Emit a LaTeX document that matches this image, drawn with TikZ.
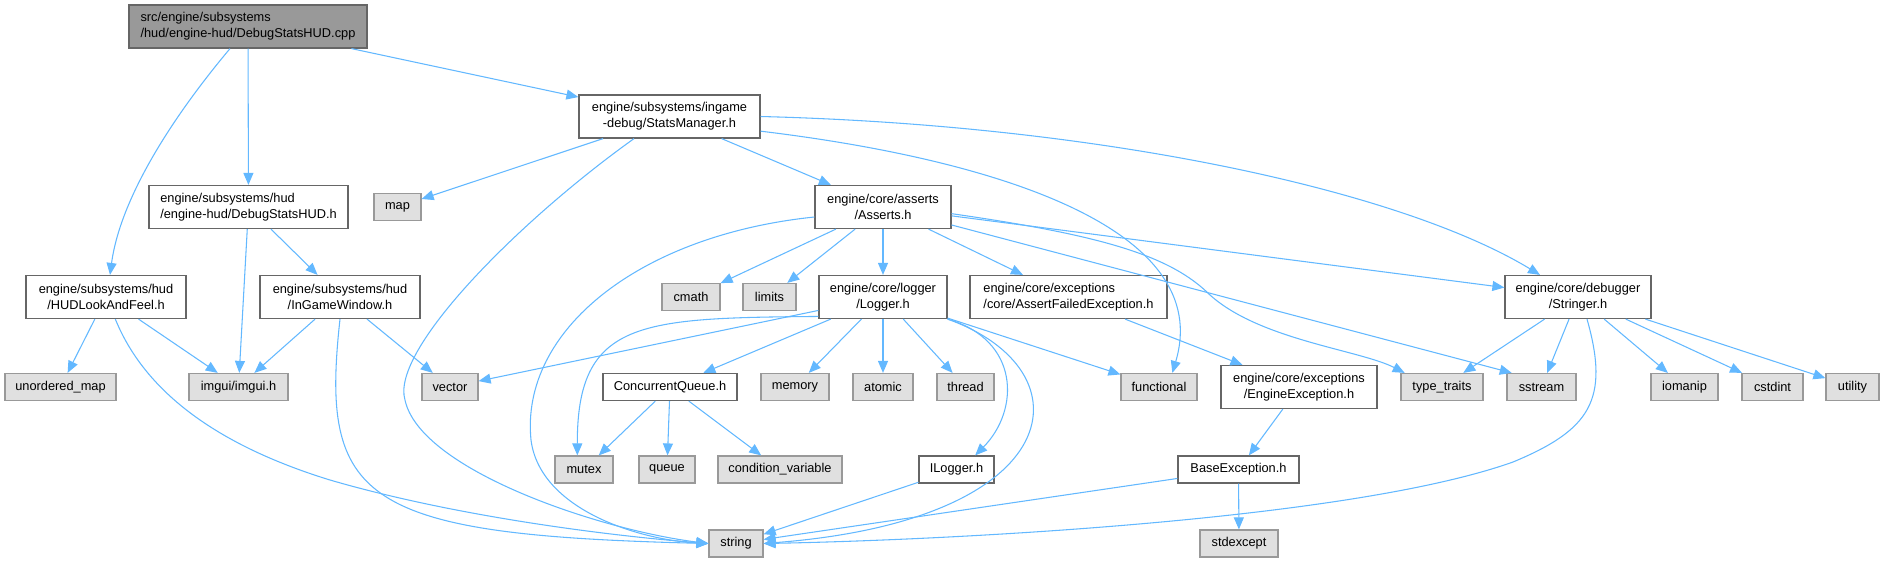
\documentclass[tikz,border=0pt]{standalone}
\usepackage{fontspec}
\setmainfont{Liberation Sans}
\usetikzlibrary{arrows.meta}
\definecolor{edgeblue}{HTML}{63B8FF}
\definecolor{boxline}{HTML}{666666}
\definecolor{sysline}{HTML}{999999}
\definecolor{sysfill}{HTML}{E0E0E0}
\definecolor{srcfill}{HTML}{999999}
\begin{document}
\begin{tikzpicture}[x=0.75pt,y=-0.75pt,
  font=\fontsize{9.6}{12}\selectfont,
  hdr/.style={draw=boxline,fill=white,line width=0.9pt,inner sep=0pt,
    minimum height=20.25pt,align=center},
  twoline/.style={minimum height=32.25pt},
  sys/.style={draw=sysline,fill=sysfill,line width=0.9pt,inner sep=0pt,
    minimum height=20.25pt},
  src/.style={hdr,twoline,fill=srcfill},
  bw/.style={minimum width=#1*0.75pt},
  dep/.style={draw=edgeblue,line width=0.8pt,-{Triangle[length=9pt,width=7.5pt]}}]
  \useasboundingbox (0,0) rectangle (1884,565);
  \node[src,bw=238,align=left] (cpp) at (248,26.5)
    {src/engine/subsystems\\/hud/engine-hud/DebugStatsHUD.cpp};
  \node[hdr,twoline,bw=181] (statsmgr) at (669.5,116.5)
    {engine/subsystems/ingame\\-debug/StatsManager.h};
  \node[hdr,twoline,bw=199,align=left] (hudh) at (248.5,207)
    {engine/subsystems/hud\\/engine-hud/DebugStatsHUD.h};
  \node[sys,bw=47] (map) at (397.5,207) {map};
  \node[hdr,twoline,bw=136] (asserts) at (883,207) {engine/core/asserts\\/Asserts.h};
  \node[hdr,twoline,bw=160] (lookfeel) at (106,297) {engine/subsystems/hud\\/HUDLookAndFeel.h};
  \node[hdr,twoline,bw=160] (ingamewin) at (340,297) {engine/subsystems/hud\\/InGameWindow.h};
  \node[sys,bw=58] (cmath) at (691,297) {cmath};
  \node[sys,bw=53] (limits) at (769.5,297) {limits};
  \node[hdr,twoline,bw=128] (logger) at (883,297) {engine/core/logger\\/Logger.h};
  \node[hdr,twoline,bw=197,align=left] (assertfail) at (1068.5,297)
    {engine/core/exceptions\\/core/AssertFailedException.h};
  \node[hdr,twoline,bw=146] (stringer) at (1578,297) {engine/core/debugger\\/Stringer.h};
  \node[sys,bw=111] (umap) at (60.5,387) {unordered\_map};
  \node[sys,bw=99] (imgui) at (238.5,387) {imgui/imgui.h};
  \node[sys,bw=56] (vector) at (450,387) {vector};
  \node[hdr,bw=134] (cqueue) at (670,387) {ConcurrentQueue.h};
  \node[sys,bw=68] (memory) at (795,387) {memory};
  \node[sys,bw=60] (atomic) at (883,387) {atomic};
  \node[sys,bw=57] (thread) at (965.5,387) {thread};
  \node[sys,bw=76] (functional) at (1159,387) {functional};
  \node[hdr,twoline,bw=156] (engexc) at (1299,387) {engine/core/exceptions\\/EngineException.h};
  \node[sys,bw=82] (typetraits) at (1442,387) {type\_traits};
  \node[sys,bw=69] (sstream) at (1541.5,387) {sstream};
  \node[sys,bw=67] (iomanip) at (1684.5,387) {iomanip};
  \node[sys,bw=61] (cstdint) at (1772.5,387) {cstdint};
  \node[sys,bw=53] (utility) at (1852.5,387) {utility};
  \node[sys,bw=58] (mutex) at (584,469.5) {mutex};
  \node[sys,bw=56] (queue) at (667,469.5) {queue};
  \node[sys,bw=124] (condvar) at (780,469.5) {condition\_variable};
  \node[hdr,bw=75] (ilogger) at (956.5,469.5) {ILogger.h};
  \node[hdr,bw=121] (baseexc) at (1238.5,469.5) {BaseException.h};
  \node[sys,bw=54] (string) at (736,543.5) {string};
  \node[sys,bw=78] (stdexcept) at (1239,543.5) {stdexcept};

  \draw[dep] (cpp) -- (hudh);
  \draw[dep] (cpp) -- (statsmgr);
  \draw[dep] ([xshift=-13.5pt]cpp.south) .. controls (170,120) and (120,200) .. ([xshift=3pt]lookfeel.north);

  \draw[dep] (statsmgr) -- (map);
  \draw[dep] (statsmgr) -- (asserts);
  \draw[dep] ([xshift=-26.6pt]statsmgr.south) .. controls (520,220) and (390,350) .. (405,400)
    .. controls (420,470) and (600,530) .. (string.west);
  \draw[dep] (statsmgr.east) .. controls (1100,125) and (1400,190) .. ([xshift=-28.5pt]stringer.north);
  \draw[dep] ([yshift=-11pt]statsmgr.east) .. controls (1000,160) and (1215,230) .. ([xshift=10pt]functional.north);

  \draw[dep] (hudh) -- (imgui);
  \draw[dep] (hudh) -- (ingamewin);

  \draw[dep] (lookfeel) -- (umap);
  \draw[dep] (lookfeel) -- (imgui);
  \draw[dep] ([xshift=7pt]lookfeel.south) .. controls (140,380) and (200,440) .. (330,480)
    .. controls (450,515) and (600,535) .. (string.west);

  \draw[dep] (ingamewin) -- (imgui);
  \draw[dep] (ingamewin) -- (vector);
  \draw[dep] (ingamewin.south) .. controls (320,500) and (360,535) .. (string.west);

  \draw[dep] ([yshift=-7.5pt]asserts.west) .. controls (640,235) and (520,330) .. (531,440)
    .. controls (540,510) and (640,540) .. (string.west);
  \draw[dep] (asserts) -- (cmath);
  \draw[dep] (asserts) -- (limits);
  \draw[dep] (asserts) -- (logger);
  \draw[dep] (asserts) -- (assertfail);
  \draw[dep] (asserts) -- (stringer);
  \draw[dep] (asserts) -- ([xshift=4pt]sstream.north west);
  \draw[dep] ([yshift=-5pt]asserts.east) .. controls (1100,235) and (1170,255) .. (1210,295)
    .. controls (1260,340) and (1360,350) .. ([xshift=-28pt]typetraits.north);

  \draw[dep] (logger) -- (vector);
  \draw[dep] ([yshift=2pt]logger.south west) .. controls (640,318) and (577,320) .. ([xshift=-5pt]mutex.north);
  \draw[dep] (logger) -- (cqueue);
  \draw[dep] (logger) -- (memory);
  \draw[dep] (logger) -- (atomic);
  \draw[dep] (logger) -- (thread);
  \draw[dep] (logger) -- (functional);
  \draw[dep] (logger.south east) .. controls (1020,340) and (1020,410) .. ([xshift=14pt]ilogger.north);
  \draw[dep] (logger.south east) .. controls (1090,370) and (1070,520) .. (string.east);

  \draw[dep] (cqueue) -- (mutex);
  \draw[dep] (cqueue) -- (queue);
  \draw[dep] (cqueue) -- (condvar);

  \draw[dep] (assertfail) -- (engexc);
  \draw[dep] (engexc) -- (baseexc);
  \draw[dep] (baseexc) -- (string);
  \draw[dep] (baseexc) -- (stdexcept);
  \draw[dep] (ilogger) -- (string);

  \draw[dep] (stringer) -- (typetraits);
  \draw[dep] (stringer) -- (sstream);
  \draw[dep] ([xshift=6.75pt]stringer.south) .. controls (1610,400) and (1590,430) .. (1513,462)
    .. controls (1350,520) and (950,540) .. (string.east);
  \draw[dep] (stringer) -- (iomanip);
  \draw[dep] (stringer) -- (cstdint);
  \draw[dep] (stringer) -- (utility);
\end{tikzpicture}
\end{document}
